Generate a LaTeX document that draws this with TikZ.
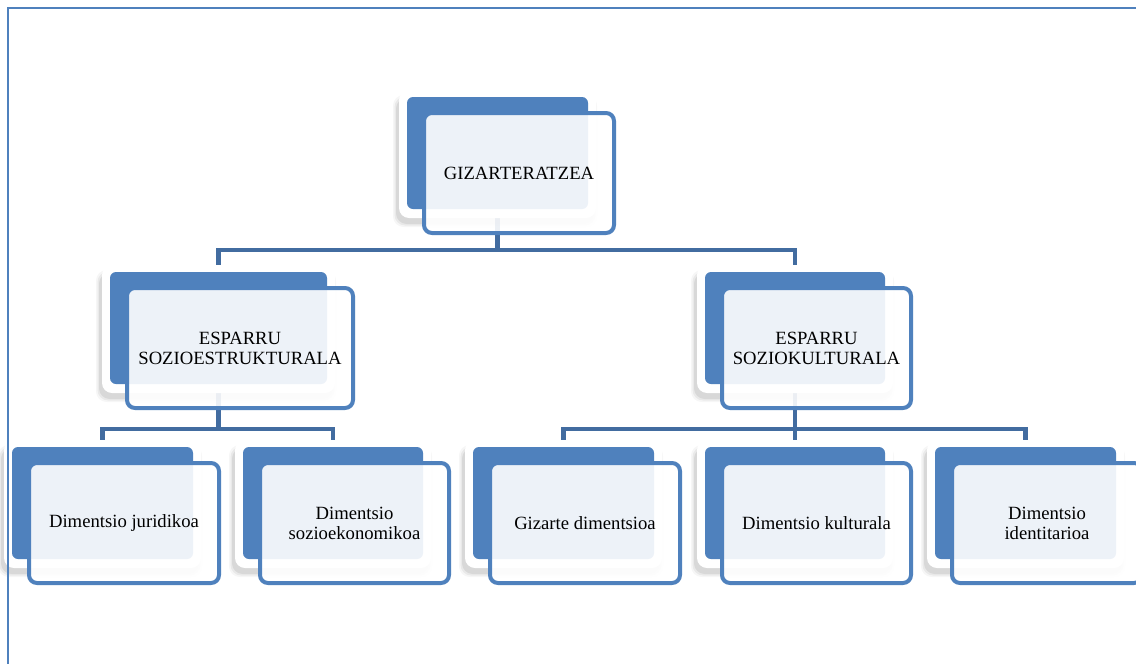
\documentclass[tikz,border=0pt]{standalone}
\usepackage{fontspec}
\setmainfont{Liberation Serif}
\pgfdeclarelayer{background}
\pgfdeclarelayer{bottom}
\pgfsetlayers{bottom,background,main}
\definecolor{accent}{RGB}{79,129,189}
\definecolor{connc}{RGB}{66,108,160}
\tikzset{
  whitebox/.style={fill=white, rounded corners=7.5pt, inner sep=0pt, outer sep=0pt},
  bluebox/.style={fill=accent, rounded corners=4.5pt, inner sep=0pt, outer sep=0pt},
  frontbox/.style={draw=accent, line width=3pt, fill=white, fill opacity=0.9, text opacity=1,
    rounded corners=6pt, inner sep=0pt, outer sep=0pt, align=center, text=black,
    font=\fontsize{14pt}{15pt}\selectfont},
  conn/.style={draw=connc, line width=3.6pt, line join=miter},
  framestyle/.style={draw=accent, line width=1.2pt}
}
\newcommand\orgnode[5]{%
  \pgfmathsetmacro\ocx{#2+#4/2}%
  \pgfmathsetmacro\ocy{#3+56}%
  \pgfmathsetmacro\owl{#2-8}%
  \pgfmathsetmacro\owr{#2+#4+8}%
  \pgfmathsetmacro\owt{#3-7}%
  \pgfmathsetmacro\owb{#3+121}%
  \foreach \e/\op in {4/0.035,2.5/0.05,1/0.07}{%
    \fill[black, opacity=\op, rounded corners=8pt]
      ({\owl-2-\e},{\owt+9-\e}) rectangle ({\owr-3+\e},{\owb+5+\e});}
  \node[whitebox, minimum width={(#4+16)*0.75pt}, minimum height={128*0.75pt}]
    (#1-w) at (\ocx,{\ocy+1}) {};
  \node[bluebox, minimum width={#4*0.75pt}, minimum height={112*0.75pt}]
    (#1) at (\ocx,\ocy) {};
  \node[frontbox, minimum width={(#4+9)*0.75pt}, minimum height={120*0.75pt}]
    (#1-f) at ({\ocx+21.5},{\ocy+20}) {#5};
}
\begin{document}
\begin{tikzpicture}[x=0.75pt, y=-0.75pt]
\useasboundingbox (0,0) rectangle (1136,664);
\clip (0,0) rectangle (1136,664);
\begin{pgfonlayer}{bottom}
  \fill[white] (0,0) rectangle (1136,664);
\end{pgfonlayer}

\orgnode{top}{407}{97}{181}{GIZARTERATZEA}
\orgnode{l2a}{110}{272}{217}{ESPARRU\\SOZIOESTRUKTURALA}
\orgnode{l2b}{705}{272}{180}{ESPARRU\\SOZIOKULTURALA}
\orgnode{l3a}{12}{447}{181}{Dimentsio juridikoa}
\orgnode{l3b}{243}{447}{180}{Dimentsio\\sozioekonomikoa}
\orgnode{l3c}{473}{447}{181}{Gizarte dimentsioa}
\orgnode{l3d}{705}{447}{180}{Dimentsio kulturala}
\orgnode{l3e}{935}{447}{181}{Dimentsio\\identitarioa}

\coordinate (h1) at (0,250);
\coordinate (h2) at (0,429);

\begin{pgfonlayer}{background}
  \draw[conn] (top.center) -- (top.center |- h1);
  \draw[conn] (l2a-w.north) |- (l2b-w.north |- h1) -- (l2b-w.north);
  \draw[conn] (l2a.center) -- (l2a.center |- h2);
  \draw[conn] (l3a-w.north) |- (l3b-w.north |- h2) -- (l3b-w.north);
  \draw[conn] (l2b.center) -- (l3d-w.north);
  \draw[conn] (l3c-w.north) |- (l3e-w.north |- h2) -- (l3e-w.north);
\end{pgfonlayer}

\draw[framestyle] (8,8) rectangle (1160,690);
\end{tikzpicture}
\end{document}
